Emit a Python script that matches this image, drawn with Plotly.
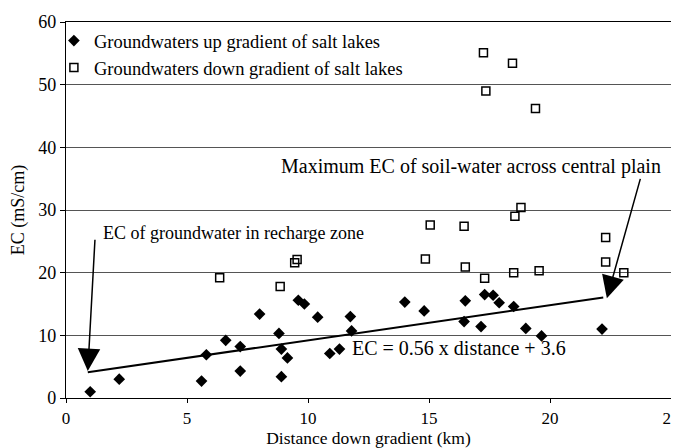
import plotly.graph_objects as go

# Groundwaters up gradient of salt lakes (diamonds)
up_x = [1.0, 2.2, 5.6, 5.8, 6.6, 7.2, 7.2, 8.0, 8.8, 8.9, 9.15, 8.9, 9.6, 9.85, 10.4, 10.9,
        11.3, 11.75, 11.8, 14.0, 14.8, 16.5, 16.45, 17.15, 17.3, 17.65, 17.9, 18.5, 19.0, 19.65, 22.15]
up_y = [1.0, 3.0, 2.7, 6.9, 9.2, 8.2, 4.3, 13.4, 10.3, 7.8, 6.4, 3.4, 15.6, 15.0, 12.9, 7.1,
        7.8, 13.0, 10.7, 15.3, 13.9, 15.5, 12.2, 11.4, 16.5, 16.4, 15.2, 14.6, 11.1, 9.9, 11.0]

# Groundwaters down gradient of salt lakes (open squares)
down_x = [6.35, 8.85, 9.45, 9.55, 14.85, 15.05, 16.45, 16.5, 17.3, 17.25, 17.35, 18.45, 18.5,
          18.55, 18.8, 19.4, 19.55, 22.3, 22.3, 23.05]
down_y = [19.2, 17.8, 21.6, 22.1, 22.2, 27.6, 27.4, 20.9, 19.1, 55.1, 49.0, 53.4, 20.0,
          29.0, 30.4, 46.2, 20.3, 25.6, 21.7, 20.0]

# Fitted line EC = 0.56 x distance + 3.6
slope = 0.56
intercept = 3.6
fit_x = [0.9, 22.2]
fit_y = [slope * v + intercept for v in fit_x]

x_ticks = [0, 5, 10, 15, 20, 25]
y_ticks = [0, 10, 20, 30, 40, 50, 60]

FONT = "Liberation Serif, Times New Roman, serif"

fig = go.Figure()
fig.add_trace(go.Scatter(
    x=up_x, y=up_y, mode="markers", name="Groundwaters up gradient of salt lakes",
    marker=dict(symbol="diamond", size=9, color="black", line=dict(width=0)),
))
fig.add_trace(go.Scatter(
    x=down_x, y=down_y, mode="markers", name="Groundwaters down gradient of salt lakes",
    marker=dict(symbol="square-open", size=8, color="black", line=dict(width=1.5)),
))
fig.add_trace(go.Scatter(
    x=fit_x, y=fit_y, mode="lines", showlegend=False,
    line=dict(color="black", width=2),
))

annotations = [
    dict(x=0.9, y=4.3, ax=1.2, ay=25.5, xref="x", yref="y", axref="x", ayref="y",
         text="", showarrow=True, arrowhead=2, arrowsize=3, arrowwidth=1.5, arrowcolor="black"),
    dict(x=22.35, y=15.9, ax=23.75, ay=35.2, xref="x", yref="y", axref="x", ayref="y",
         text="", showarrow=True, arrowhead=2, arrowsize=3, arrowwidth=1.5, arrowcolor="black"),
    dict(x=1.45, y=26.3, xref="x", yref="y", text="EC of groundwater in recharge zone",
         showarrow=False, xanchor="left", yanchor="middle", font=dict(size=18, color="black", family=FONT)),
    dict(x=8.8, y=36.9, xref="x", yref="y", text="Maximum EC of soil-water across central plain",
         showarrow=False, xanchor="left", yanchor="middle", font=dict(size=20, color="black", family=FONT)),
    dict(x=11.75, y=7.9, xref="x", yref="y", text="EC = 0.56 x distance + 3.6",
         showarrow=False, xanchor="left", yanchor="middle", font=dict(size=20, color="black", family=FONT)),
]

fig.update_layout(
    width=671, height=440,
    margin=dict(l=58, r=8, t=14, b=50),
    paper_bgcolor="white", plot_bgcolor="white",
    font=dict(family=FONT, size=18, color="black"),
    showlegend=True,
    legend=dict(x=-0.02, y=1.0, xanchor="left", yanchor="top", bgcolor="rgba(0,0,0,0)",
                font=dict(size=18.5, family=FONT, color="black"), itemwidth=30, tracegroupgap=0),
    annotations=annotations,
)
fig.update_xaxes(
    range=[0, 25], tickvals=x_ticks, showgrid=False, zeroline=False, automargin=False,
    showline=True, linecolor="black", linewidth=1.2, mirror=True,
    ticks="outside", ticklen=4, tickcolor="black", ticklabeloverflow="allow",
    title=dict(text="Distance down gradient (km)", font=dict(size=17.5, family=FONT, color="black")),
    tickfont=dict(size=17, family=FONT, color="black"),
)
fig.update_yaxes(
    range=[0, 60], tickvals=y_ticks, showgrid=True, gridcolor="#555555", gridwidth=1,
    zeroline=False, showline=True, linecolor="black", linewidth=1.2, mirror=True, automargin=False,
    ticks="outside", ticklen=5, tickcolor="black",
    title=dict(text="EC (mS/cm)", font=dict(size=18, family=FONT, color="black")),
    tickfont=dict(size=18, family=FONT, color="black"),
)

fig.write_html("out.html")
